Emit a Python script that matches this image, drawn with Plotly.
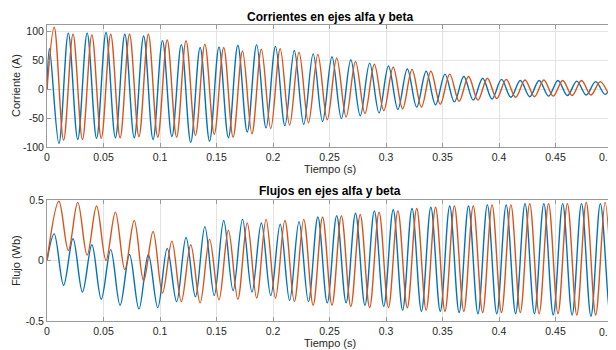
import plotly.graph_objects as go

# ---------------- data ----------------
# extrema lie on a quarter-period grid of a 60 Hz wave
T_FIRST = 0.0022          # time of first extremum (s)
T_QUARTER = 1.0 / 240.0   # quarter period (s)
T_END = 0.5

# Currents (A) - alpha (blue): peaks / troughs per cycle
i_alpha_peaks = [70, 97, 97, 98, 95, 92, 84, 77, 72, 73, 76, 77, 74, 67, 61,
                 56, 51, 45, 40, 35, 31, 26, 22, 19, 17, 15, 15, 15, 14, 13]
i_alpha_troughs = [-94, -87, -85, -84, -84, -87, -82, -92, -90, -84, -74, -67, -63, -61, -56,
                   -51, -46, -41, -35, -31, -27, -22, -19, -17, -14, -13, -12, -11, -10, -9]
i_alpha_end = 10

# Currents (A) - beta (orange)
i_beta_peaks = [107, 95, 94, 95, 95, 95, 85, 84, 78, 72, 66, 69, 70, 64, 60,
                54, 48, 43, 38, 34, 31, 26, 22, 19, 17, 16, 16, 15, 15, 13]
i_beta_troughs = [-88, -87, -85, -84, -82, -83, -83, -80, -78, -83, -77, -68, -62, -58, -53,
                  -48, -42, -37, -34, -31, -26, -21, -19, -16, -14, -13, -12, -11, -10, -9]
i_beta_end = -5

# Fluxes (Wb) - alpha (blue)
f_alpha_peaks = [0.22, 0.18, 0.13, 0.09, 0.05, 0.05, 0.10, 0.19, 0.28, 0.33, 0.34, 0.31, 0.30, 0.32, 0.36,
                 0.37, 0.39, 0.41, 0.42, 0.43, 0.44, 0.45, 0.45, 0.46, 0.46, 0.47, 0.47, 0.47, 0.47, 0.47]
f_alpha_troughs = [-0.205, -0.26, -0.32, -0.37, -0.40, -0.39, -0.34, -0.30, -0.29, -0.25, -0.26, -0.29, -0.33,
                   -0.34, -0.35, -0.35, -0.37, -0.38, -0.41, -0.42, -0.42, -0.43, -0.44, -0.44, -0.44,
                   -0.44, -0.45, -0.45, -0.46, -0.46]
f_alpha_end = -0.2

# Fluxes (Wb) - beta (orange)
f_beta_peaks = [0.49, 0.48, 0.45, 0.40, 0.33, 0.24, 0.16, 0.13, 0.175, 0.25, 0.31, 0.34, 0.33, 0.34, 0.36,
                0.37, 0.38, 0.40, 0.41, 0.43, 0.44, 0.45, 0.45, 0.46, 0.46, 0.47, 0.47, 0.47, 0.48, 0.48]
f_beta_troughs = [0.083, 0.045, 0.0, -0.075, -0.17, -0.27, -0.34, -0.35, -0.325, -0.32, -0.31, -0.31, -0.34,
                  -0.37, -0.37, -0.38, -0.39, -0.39, -0.39, -0.41, -0.42, -0.42, -0.43, -0.43, -0.43,
                  -0.44, -0.44, -0.45, -0.45]
f_beta_end = -0.35

x_ticks = [0, 0.05, 0.1, 0.15, 0.2, 0.25, 0.3, 0.35, 0.4, 0.45, 0.5]
x_ticktext = ["0", "0.05", "0.1", "0.15", "0.2", "0.25", "0.3", "0.35", "0.4", "0.45", "0.5"]
i_ticks = [-100, -50, 0, 50, 100]
i_ticktext = ["-100", "-50", "0", "50", "100"]
f_ticks = [-0.5, 0, 0.5]
f_ticktext = ["-0.5", "0", "0.5"]


def interleave(first, second):
    out = []
    for idx in range(max(len(first), len(second))):
        if idx < len(first):
            out.append(first[idx])
        if idx < len(second):
            out.append(second[idx])
    return out


def series(first_k, values, end_value):
    times = [round(T_FIRST + (first_k + 2 * j) * T_QUARTER, 5) for j in range(len(values))]
    return [0.0] + times + [T_END], [0.0] + values + [end_value]


BLUE = "#0072BD"
ORANGE = "#D95319"
FONT = "Liberation Sans, Arial, Helvetica, sans-serif"
TXT = "#262626"
LW = 1.4

fig = go.Figure()

x, y = series(0, interleave(i_alpha_peaks, i_alpha_troughs), i_alpha_end)
fig.add_trace(go.Scatter(x=x, y=y, mode="lines", line=dict(color=BLUE, width=LW, shape="spline", smoothing=1),
                         xaxis="x", yaxis="y", name="i alfa"))
x, y = series(1, interleave(i_beta_peaks, i_beta_troughs), i_beta_end)
fig.add_trace(go.Scatter(x=x, y=y, mode="lines", line=dict(color=ORANGE, width=LW, shape="spline", smoothing=1),
                         xaxis="x", yaxis="y", name="i beta"))
x, y = series(1, interleave(f_alpha_peaks, f_alpha_troughs), f_alpha_end)
fig.add_trace(go.Scatter(x=x, y=y, mode="lines", line=dict(color=BLUE, width=LW, shape="spline", smoothing=1),
                         xaxis="x2", yaxis="y2", name="flujo alfa"))
x, y = series(2, interleave(f_beta_peaks, f_beta_troughs), f_beta_end)
fig.add_trace(go.Scatter(x=x, y=y, mode="lines", line=dict(color=ORANGE, width=LW, shape="spline", smoothing=1),
                         xaxis="x2", yaxis="y2", name="flujo beta"))

# The page body has an 8 px margin, so the figure is 608x342 and page pixel = figure pixel + 8.
OFF = 8
FIG_W, FIG_H = 616 - OFF, 350 - OFF
# page geometry of the plot area: 47..612 (x), 25..321 (y)
M_L, M_R, M_T, M_B = 47 - OFF, 616 - 612, 25 - OFF, 350 - 321
H = FIG_H - M_T - M_B
W = FIG_W - M_L - M_R


def py(page_y):
    return (321 - page_y) / H


def px(page_x):
    return (page_x - 47) / W


axis_common = dict(
    automargin=False,
    showgrid=True, gridcolor="#e3e3e3", gridwidth=1,
    showline=True, linecolor="#9a9a9a", linewidth=1, mirror="ticks",
    ticks="inside", ticklen=4, tickcolor="#9a9a9a",
    zeroline=False, tickfont=dict(family=FONT, size=10.5, color=TXT),
)


def label(text, page_x, page_y, size=11, color=TXT, angle=0, xanchor="center"):
    return dict(text=text, x=px(page_x), y=py(page_y), xref="paper", yref="paper", textangle=angle,
                xanchor=xanchor, yanchor="middle", showarrow=False,
                font=dict(family=FONT, size=size, color=color))


fig.update_layout(
    template="none",
    width=FIG_W, height=FIG_H,
    margin=dict(l=M_L, r=M_R, t=M_T, b=M_B, autoexpand=False),
    paper_bgcolor="white", plot_bgcolor="white",
    showlegend=False,
    font=dict(family=FONT, color=TXT),
    xaxis=dict(domain=[0, 1], range=[0, 0.5], tickvals=x_ticks, ticktext=x_ticktext, anchor="y", **axis_common),
    yaxis=dict(domain=[py(147), 1], range=[-100, 111], tickvals=i_ticks, ticktext=i_ticktext, anchor="x",
               **axis_common),
    xaxis2=dict(domain=[0, 1], range=[0, 0.5], tickvals=x_ticks, ticktext=x_ticktext, anchor="y2", **axis_common),
    yaxis2=dict(domain=[0, py(200)], range=[-0.5, 0.5], tickvals=f_ticks, ticktext=f_ticktext, anchor="x2",
                **axis_common),
    annotations=[
        label("<b>Corrientes en ejes alfa y beta</b>", 329.5, 17, size=12, color="black"),
        label("<b>Flujos en ejes alfa y beta</b>", 329.5, 191, size=12, color="black"),
        label("Tiempo (s)", 329.5, 169),
        label("Tiempo (s)", 329.5, 343),
        label("Corriente (A)", 16, 86, angle=-90),
        label("Flujo (Wb)", 16, 261, angle=-90),
        # last x tick label sits on the page edge in the reference
        label(x_ticktext[-1], 616, 157, size=10.5, xanchor="right"),
        label(x_ticktext[-1], 616, 332, size=10.5, xanchor="right"),
    ],
)

fig.write_html("out.html")
